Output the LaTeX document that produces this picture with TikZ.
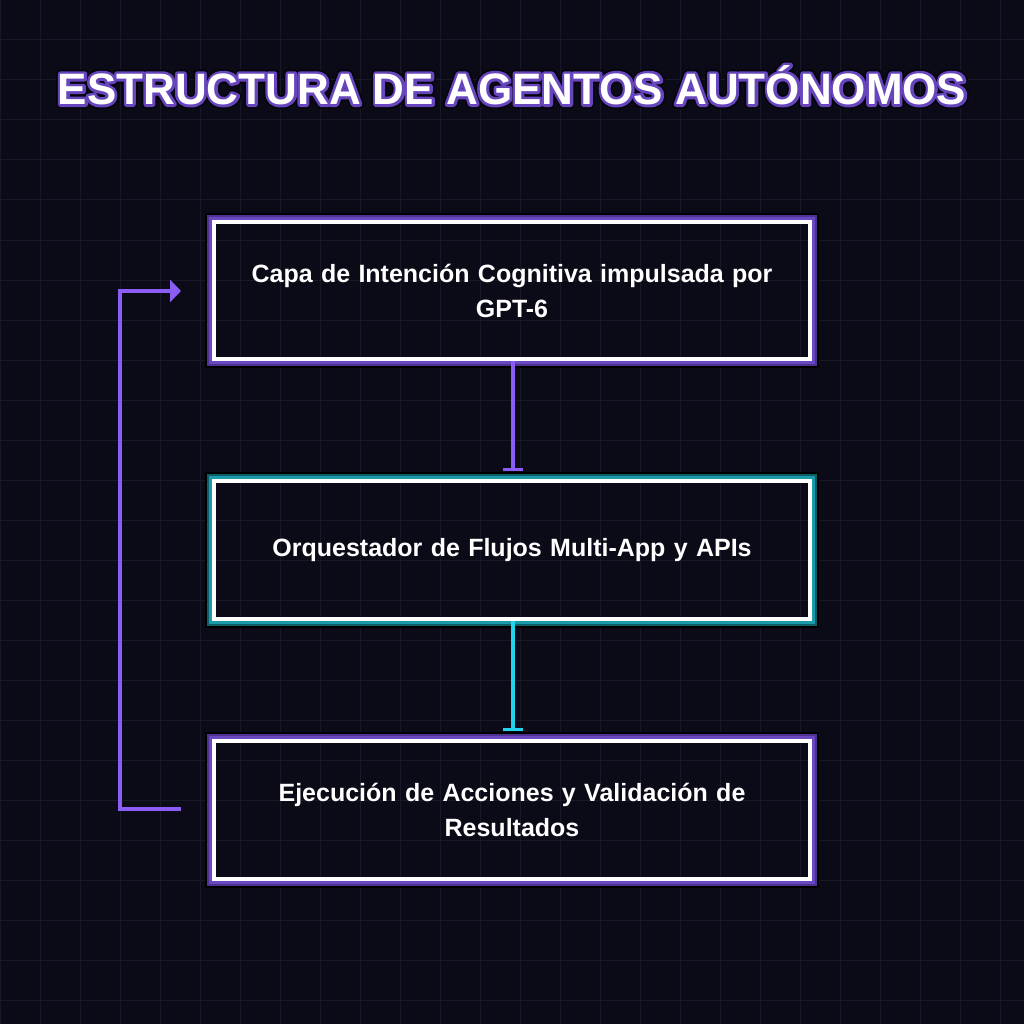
\documentclass[tikz,border=0pt]{standalone}
\usepackage{fontspec}
\setmainfont{Liberation Sans}
\usetikzlibrary{arrows.meta,calc}
\definecolor{bg}{HTML}{0B0B18}
\definecolor{gridc}{HTML}{181828}
\definecolor{purp}{HTML}{8B5CF6}
\definecolor{purpdark}{HTML}{4C3391}
\definecolor{purpmid}{HTML}{6A48C0}
\definecolor{cyanc}{HTML}{22D3EE}
\definecolor{tealdark}{HTML}{0E5E68}
\definecolor{tealmid}{HTML}{1A9AAA}
\newcommand{\outlinetext}[3]{\special{pdf:code 1 Tr #1 w #2 RG 1 j}#3\special{pdf:code 0 Tr 1 1 1 RG}}
\newcommand{\glowtitle}[1]{\rlap{\outlinetext{9}{0.02 0.02 0.05}{#1}}\rlap{\outlinetext{5.5}{0.40 0.27 0.74}{#1}}#1}
\begin{document}
\begin{tikzpicture}[x=1pt,y=-1pt,
  boxtext/.style={text=white,font=\bfseries\fontsize{25}{35}\selectfont,align=center,text width=580pt},
  framewhite/.style={draw=white,line width=4pt},
  conn/.style={line width=4pt},
]
\useasboundingbox (0,0) rectangle (1024,1024);
\fill[bg] (0,0) rectangle (1024,1024);
\foreach \i in {0,40,...,1000}{
  \draw[gridc,line width=1pt] (\i,0) -- (\i,1024);
  \draw[gridc,line width=1pt] (0,\i) -- (1024,\i);
}
% title
\node[text=white,font=\bfseries\fontsize{44}{50}\selectfont] (title) at (512,85) {\glowtitle{ESTRUCTURA DE AGENTOS AUTÓNOMOS}};

% frames: glow
\newcommand{\glowbox}[6]{%
  \fill[black] (#1-9,#2-9) rectangle (#3+9,#4+9);
  \fill[#5] (#1-7,#2-7) rectangle (#3+7,#4+7);
  \fill[#6] (#1-5,#2-5) rectangle (#3+5,#4+5);
  \fill[bg] (#1,#2) rectangle (#3,#4);
}
\glowbox{214}{222}{810}{359}{purpdark}{purpmid}
\glowbox{214}{481}{810}{619}{tealdark}{tealmid}
\glowbox{214}{741}{810}{879}{purpdark}{purpmid}
% redraw grid inside boxes
\begin{scope}
\clip (216,224) rectangle (808,357) (216,483) rectangle (808,617) (216,743) rectangle (808,877);
\foreach \i in {0,40,...,1000}{
  \draw[gridc,line width=1pt] (\i,0) -- (\i,1024);
  \draw[gridc,line width=1pt] (0,\i) -- (1024,\i);
}
\end{scope}
\node[framewhite,minimum width=596pt,minimum height=137pt,inner sep=0pt] (b1) at (512,290.5) {};
\node[framewhite,minimum width=596pt,minimum height=138pt,inner sep=0pt] (b2) at (512,550) {};
\node[framewhite,minimum width=596pt,minimum height=138pt,inner sep=0pt] (b3) at (512,810) {};
\node[boxtext] (t1) at (b1) {Capa de Intención Cognitiva impulsada por\\GPT-6};
\node[boxtext] (t2) at (b2) {Orquestador de Flujos Multi-App y APIs};
\node[boxtext] (t3) at (b3) {Ejecución de Acciones y Validación de\\Resultados};

% connectors
\draw[conn,purp,-{Bar[width=20pt,line width=3pt]}] ([xshift=1pt]b1.south) -- ([xshift=1pt,yshift=8pt]b2.north);
\draw[conn,cyanc,-{Bar[width=20pt,line width=3pt]}] ([xshift=1pt]b2.south) -- ([xshift=1pt,yshift=8pt]b3.north);
\coordinate (fb1) at (181,809);
\coordinate (fb2) at (181,291);
\draw[conn,purp,-{Triangle[length=11pt,width=22pt]}] (fb1) -- (120,809) -- (120,291) -- (fb2);
\end{tikzpicture}
\end{document}
